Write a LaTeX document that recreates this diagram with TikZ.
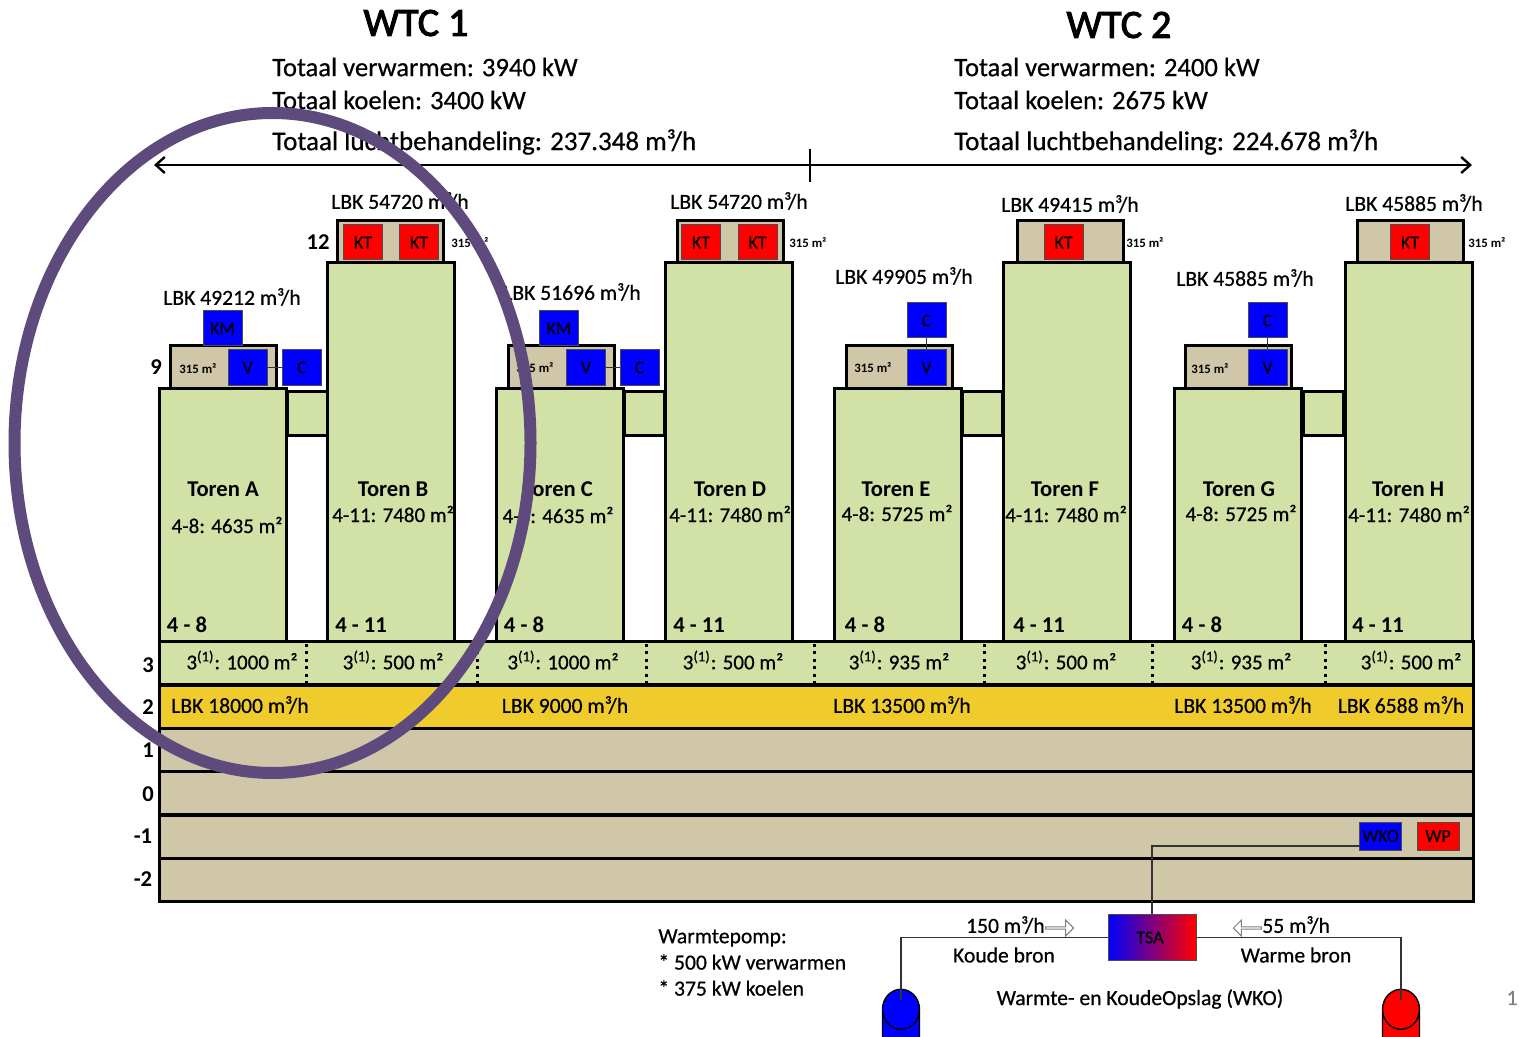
\documentclass[tikz,border=0pt]{standalone}
\usepackage{fontspec}
\usepackage{xcolor}
\setmainfont{Carlito}[FakeBold=0.6,BoldFeatures={FakeBold=0}]
\newfontfamily\titlefont{Carlito}[FakeBold=2.5]
\usetikzlibrary{arrows.meta,positioning,shapes.geometric,shapes.arrows}
\definecolor{towergreen}{HTML}{D2E2A6}
\definecolor{roofsand}{HTML}{CFC7A8}
\definecolor{lbkyellow}{HTML}{EFCC2B}
\definecolor{ringpurple}{HTML}{5F4A7E}
\tikzset{
  lowtower/.style = {
    rectangle,
    draw,
    fill=towergreen,
    line width=1.5pt,
    minimum width=63.5pt,
    minimum height=126.5pt
  },
  hightower/.style = {
    lowtower,
    minimum height=189pt
  },
  towerlink/.style = {
    rectangle,
    draw,
    fill=towergreen,
    line width=1.5pt,
    minimum width=20pt,
    minimum height=22pt
  },
  roofbox/.style = {
    rectangle,
    draw,
    fill=roofsand,
    line width=1.5pt,
    minimum width=53pt,
    minimum height=21pt
  },
  floorband/.style = {
    rectangle,
    draw,
    fill=roofsand,
    line width=1.5pt,
    minimum width=657pt,
    minimum height=21.5pt
  },
  bluebox/.style = {
    rectangle,
    draw=black!70,
    fill=blue,
    line width=.5pt,
    inner sep=0pt,
    font=\fontsize{9}{9}\selectfont,
    minimum width=19.5pt,
    minimum height=17.5pt
  },
  redbox/.style = {
    bluebox,
    fill=red
  },
  areatext/.style = {font=\fontsize{6.4}{6.4}\selectfont\bfseries, inner sep=0pt},
  lbktext/.style = {font=\fontsize{10.8}{10.8}\selectfont, inner sep=0pt},
  surftext/.style = {font=\fontsize{10.5}{10.5}\selectfont, inner sep=0pt},
  infotext/.style = {font=\fontsize{13.3}{13.3}\selectfont, anchor=west, inner sep=0pt},
  nametext/.style = {font=\fontsize{11.3}{11.3}\selectfont\bfseries, inner sep=0pt},
  leveltext/.style = {font=\fontsize{11.3}{11.3}\selectfont\bfseries, inner sep=0pt},
  coldwell/.style = {
    cylinder,
    shape border rotate=90,
    draw,
    line width=.7pt,
    shape aspect=2,
    inner sep=0pt,
    minimum width=18.5pt,
    minimum height=34pt
  },
  flowsign/.style = {
    single arrow,
    draw=gray,
    fill=white,
    line width=.5pt,
    inner sep=0pt,
    single arrow head extend=1.5pt,
    minimum width=8pt,
    minimum height=14pt
  },
  thinwire/.style = {line width=.6pt, draw=black!80},
  floordots/.style = {line width=1.5pt, dash pattern=on 1.5pt off 2.2pt},
  spanarrow/.style = {
    {Straight Barb[length=4.5pt,width=8pt,line width=1.2pt]}-{Straight Barb[length=4.5pt,width=8pt,line width=1.2pt]},
    line width=.8pt
  }
}
\begin{document}
\begin{tikzpicture}[x=.5pt,y=-.5pt]
    \useasboundingbox (0,0) rectangle (1519,1037);
    % titels
    \node[font=\fontsize{20}{20}\selectfont\titlefont, inner sep=0pt] (wtca) at (416,23) {WTC 1};
    \node[font=\fontsize{20}{20}\selectfont\titlefont, inner sep=0pt] (wtcb) at (1119,25) {WTC 2};
    \node[infotext] (heata) at (272,67) {Totaal verwarmen: 3940 kW};
    \node[infotext] (coola) at (272,100) {Totaal koelen: 3400 kW};
    \node[infotext, font=\fontsize{13.5}{13.5}\selectfont] (aira) at (272,142) {Totaal luchtbehandeling: 237.348 m³/h};
    \node[infotext] (heatb) at (954,67) {Totaal verwarmen: 2400 kW};
    \node[infotext] (coolb) at (954,100) {Totaal koelen: 2675 kW};
    \node[infotext, font=\fontsize{13.5}{13.5}\selectfont] (airb) at (954,142) {Totaal luchtbehandeling: 224.678 m³/h};
    \coordinate (spanleft) at (154,165);
    \coordinate (spanright) at (1472,165);
    \coordinate (ticktop) at (810,149);
    \coordinate (tickbottom) at (810,182);
    \draw[spanarrow] (spanleft) -- (spanright);
    \draw[line width=.8pt] (ticktop) -- (tickbottom);
    % verdiepingen
    \node[floorband, fill=towergreen] (floorthree) at (816,663) {};
    \node[floorband, fill=lbkyellow] (floortwo) at (816,706.5) {};
    \node[floorband] (floorone) at (816,750) {};
    \node[floorband] (floorzero) at (816,793) {};
    \node[floorband] (floorminone) at (816,836.5) {};
    \node[floorband] (floormintwo) at (816,879.5) {};
    % torens
    \node[towerlink] (linkab) at (307,413) {};
    \node[towerlink] (linkcd) at (644.5,413) {};
    \node[towerlink] (linkef) at (982.5,413) {};
    \node[towerlink] (linkgh) at (1323.5,413) {};
    \node[roofbox] (roofa) at (223,367) {};
    \node[roofbox] (roofb) at (390,242) {};
    \node[roofbox] (roofc) at (561,367) {};
    \node[roofbox] (roofd) at (730,242) {};
    \node[roofbox] (roofe) at (899.5,367) {};
    \node[roofbox] (rooff) at (1070,242) {};
    \node[roofbox] (roofg) at (1238,367) {};
    \node[roofbox] (roofh) at (1410,242) {};
    \node[lowtower] (towera) at (223,514.5) {};
    \node[hightower] (towerb) at (391,452) {};
    \node[lowtower] (towerc) at (560,514.5) {};
    \node[hightower] (towerd) at (729,452) {};
    \node[lowtower] (towere) at (898,514.5) {};
    \node[hightower] (towerf) at (1067,452) {};
    \node[lowtower] (towerg) at (1238,514.5) {};
    \node[hightower] (towerh) at (1409,452) {};
    % installaties
    \node[bluebox] (kma) at (222.5,328.5) {KM};
    \node[bluebox] (va) at (247.5,367.5) {V};
    \node[bluebox] (ca) at (302,367.5) {C};
    \node[redbox] (kta) at (363,242.5) {KT};
    \node[redbox] (ktb) at (419,242.5) {KT};
    \node[bluebox] (kmc) at (559,328.5) {KM};
    \node[bluebox] (vc) at (586,367.5) {V};
    \node[bluebox] (cc) at (639.5,367.5) {C};
    \node[redbox] (ktc) at (701,242.5) {KT};
    \node[redbox] (ktd) at (757.5,242.5) {KT};
    \node[bluebox] (ce) at (926.5,320.5) {C};
    \node[bluebox] (ve) at (926.5,367.5) {V};
    \node[redbox] (kte) at (1063.5,242.5) {KT};
    \node[bluebox] (cg) at (1267.5,320.5) {C};
    \node[bluebox] (vg) at (1267.5,367.5) {V};
    \node[redbox] (ktf) at (1410,242.5) {KT};
    \draw[thinwire] (va) -- (ca);
    \draw[thinwire] (vc) -- (cc);
    \draw[thinwire] (ve) -- (ce);
    \draw[thinwire] (vg) -- (cg);
    % teksten per toren
    \node[lbktext] (lbka) at (232,297) {LBK 49212 m³/h};
    \node[lbktext] (lbkb) at (400,201) {LBK 54720 m³/h};
    \node[lbktext] (lbkc) at (572,292) {LBK 51696 m³/h};
    \node[lbktext] (lbkd) at (739,201) {LBK 54720 m³/h};
    \node[lbktext] (lbke) at (904,276) {LBK 49905 m³/h};
    \node[lbktext] (lbkf) at (1070,204) {LBK 49415 m³/h};
    \node[lbktext] (lbkg) at (1245,278) {LBK 45885 m³/h};
    \node[lbktext] (lbkh) at (1414,203) {LBK 45885 m³/h};
    \node[areatext] (areaa) at (198,369) {315 m²};
    \node[areatext] (areab) at (470,243) {315 m²};
    \node[areatext] (areac) at (535,368) {315 m²};
    \node[areatext] (aread) at (808,243) {315 m²};
    \node[areatext] (areae) at (873,368) {315 m²};
    \node[areatext] (areaf) at (1145,243) {315 m²};
    \node[areatext] (areag) at (1210,369) {315 m²};
    \node[areatext] (areah) at (1487,243) {315 m²};
    \node[nametext] (namea) at (223,489) {Toren A};
    \node[nametext] (nameb) at (393,489) {Toren B};
    \node[nametext] (namec) at (558,489) {Toren C};
    \node[nametext] (named) at (730,489) {Toren D};
    \node[nametext] (namee) at (896,489) {Toren E};
    \node[nametext] (namef) at (1065,489) {Toren F};
    \node[nametext] (nameg) at (1239,489) {Toren G};
    \node[nametext] (nameh) at (1408,489) {Toren H};
    \node[surftext] (surfa) at (227,525) {4-8: 4635 m²};
    \node[surftext] (surfb) at (393,514) {4-11: 7480 m²};
    \node[surftext] (surfc) at (558,515) {4-8: 4635 m²};
    \node[surftext] (surfd) at (730,514) {4-11: 7480 m²};
    \node[surftext] (surfe) at (897,513) {4-8: 5725 m²};
    \node[surftext] (surff) at (1066,514) {4-11: 7480 m²};
    \node[surftext] (surfg) at (1241,513) {4-8: 5725 m²};
    \node[surftext] (surfh) at (1409,514) {4-11: 7480 m²};
    \node[nametext] (rangea) at (187,625) {4 - 8};
    \node[nametext] (rangeb) at (361,625) {4 - 11};
    \node[nametext] (rangec) at (524,625) {4 - 8};
    \node[nametext] (ranged) at (699,625) {4 - 11};
    \node[nametext] (rangee) at (865,625) {4 - 8};
    \node[nametext] (rangef) at (1039,625) {4 - 11};
    \node[nametext] (rangeg) at (1202,625) {4 - 8};
    \node[nametext] (rangeh) at (1378,625) {4 - 11};
    % derde verdieping
    \node[surftext] (plinta) at (242,660) {3\textsuperscript{(1)}: 1000 m²};
    \node[surftext] (plintb) at (393,660) {3\textsuperscript{(1)}: 500 m²};
    \node[surftext] (plintc) at (563,660) {3\textsuperscript{(1)}: 1000 m²};
    \node[surftext] (plintd) at (733,660) {3\textsuperscript{(1)}: 500 m²};
    \node[surftext] (plinte) at (899,660) {3\textsuperscript{(1)}: 935 m²};
    \node[surftext] (plintf) at (1066,660) {3\textsuperscript{(1)}: 500 m²};
    \node[surftext] (plintg) at (1241,660) {3\textsuperscript{(1)}: 935 m²};
    \node[surftext] (plinth) at (1411,660) {3\textsuperscript{(1)}: 500 m²};
    \draw[floordots] (306,644) -- (306,684);
    \draw[floordots] (477,644) -- (477,684);
    \draw[floordots] (646,644) -- (646,684);
    \draw[floordots] (814,644) -- (814,684);
    \draw[floordots] (984,644) -- (984,684);
    \draw[floordots] (1152,644) -- (1152,684);
    \draw[floordots] (1325,644) -- (1325,684);
    \node[lbktext] (pluma) at (240,705) {LBK 18000 m³/h};
    \node[lbktext] (plumb) at (565,705) {LBK 9000 m³/h};
    \node[lbktext] (plumc) at (902,705) {LBK 13500 m³/h};
    \node[lbktext] (plumd) at (1243,705) {LBK 13500 m³/h};
    \node[lbktext] (plume) at (1401,705) {LBK 6588 m³/h};
    % verdiepingsnummers
    \node[leveltext] (levelnine) at (156,367) {9};
    \node[leveltext] (leveltwelve) at (318,242) {12};
    \node[leveltext] (levelthree) at (148,665) {3};
    \node[leveltext] (leveltwo) at (148,707) {2};
    \node[leveltext] (levelone) at (148,750) {1};
    \node[leveltext] (levelzero) at (148,794) {0};
    \node[leveltext] (levelminone) at (143,836) {-1};
    \node[leveltext] (levelmintwo) at (143,879) {-2};
    % opslag
    \node[bluebox, minimum width=21pt, minimum height=14pt] (wko) at (1380.5,836) {WKO};
    \node[redbox, minimum width=21pt, minimum height=14pt] (wp) at (1438,836) {WP};
    \node[rectangle, draw=black!70, left color=blue, right color=red, line width=.5pt, inner sep=0pt, font=\fontsize{9}{9}\selectfont, minimum width=44pt, minimum height=23pt] (tsa) at (1152,937.5) {TSA\kern2pt};
    \node[coldwell, fill=blue] (coldsource) at (901,1040) {\phantom{\rule{10pt}{10pt}}};
    \node[coldwell, fill=red] (warmsource) at (1401,1040) {\phantom{\rule{10pt}{10pt}}};
    \coordinate (wkoport) at (1360,846);
    \coordinate (coldend) at (901,1000);
    \coordinate (warmend) at (1401,1000);
    \draw[thinwire] (wkoport) -| (tsa.north);
    \draw[thinwire] (tsa.west) -| (coldend);
    \draw[thinwire] (tsa.east) -| (warmend);
    \node[flowsign] (coldflow) at (1059,928) {};
    \node[flowsign, shape border rotate=180] (warmflow) at (1248,928) {};
    \node[lbktext, left=0pt of coldflow, yshift=1.5pt] (coldrate) {150 m³/h};
    \node[lbktext, right=0pt of warmflow, yshift=1.5pt] (warmrate) {55 m³/h};
    \node[lbktext] (coldlabel) at (1004,955) {Koude bron};
    \node[lbktext] (warmlabel) at (1296,955) {Warme bron};
    \node[lbktext] (wkolabel) at (1140,999) {Warmte- en KoudeOpslag (WKO)};
    \node[lbktext, anchor=west] (pumpa) at (658,938) {Warmtepomp:};
    \node[lbktext, anchor=west] (pumpb) at (658,962) {* 500 kW verwarmen};
    \node[lbktext, anchor=west] (pumpc) at (658,988) {* 375 kW koelen};
    \node[lbktext, text=gray] (pagenr) at (1512,998) {1};
    % ring om toren A en B
    \node[ellipse, draw=ringpurple, line width=6pt, inner sep=0pt, minimum width=258pt, minimum height=330pt] (ring) at (272.5,443) {};
\end{tikzpicture}
\end{document}
